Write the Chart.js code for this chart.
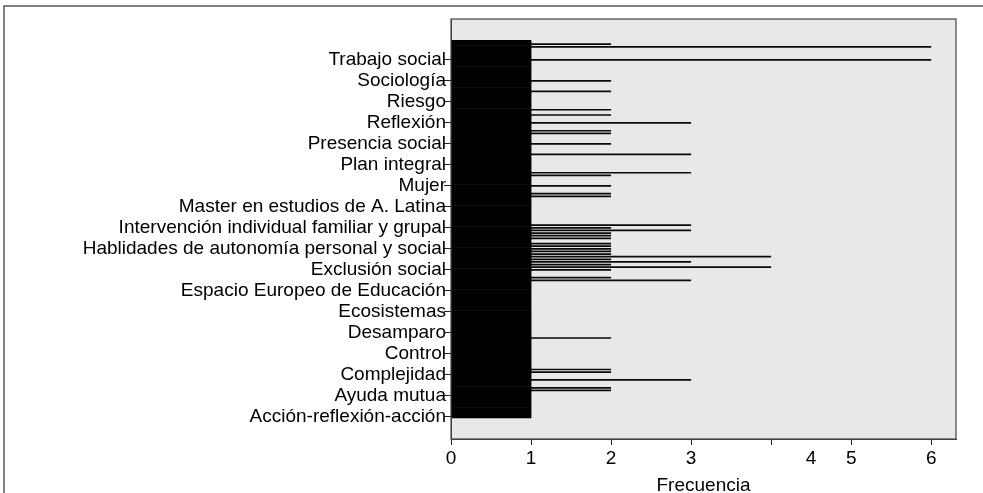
<!DOCTYPE html>
<html>
<head>
<meta charset="utf-8">
<script src="https://cdn.jsdelivr.net/npm/chart.js@4"></script>
<style>
  html, body { margin: 0; padding: 0; background: #fff; }
  canvas { display: block; }
</style>
</head>
<body>
<canvas id="keywordChart" width="983" height="493"></canvas>
<script>
// keywords shown on the axis (every 8th bar, bottom to top)
const shownKeywords = [
  'Acción-reflexión-acción', 'Ayuda mutua', 'Complejidad', 'Control',
  'Desamparo', 'Ecosistemas', 'Espacio Europeo de Educación', 'Exclusión social',
  'Hablidades de autonomía personal y social', 'Intervención individual familiar y grupal',
  'Master en estudios de A. Latina', 'Mujer', 'Plan integral', 'Presencia social',
  'Reflexión', 'Riesgo', 'Sociología', 'Trabajo social'
];
const LABEL_EVERY = 8;

// frequency of each keyword, bottom bar first (144 bars)
const frequencies = [
  1, 1, 1, 1, 1, 1, 1, 1, 1, 1,
  2, 2, 1, 1, 3, 1, 1, 2, 2, 1,
  1, 1, 1, 1, 1, 1, 1, 1, 1, 1,
  2, 1, 1, 1, 1, 1, 1, 1, 1, 1,
  1, 1, 1, 1, 1, 1, 1, 1, 1, 1,
  1, 1, 3, 2, 1, 1, 2, 4, 2, 3,
  2, 4, 2, 2, 2, 2, 2, 1, 2, 2,
  2, 3, 2, 3, 1, 1, 1, 1, 1, 1,
  1, 1, 1, 1, 2, 2, 1, 1, 2, 1,
  1, 1, 2, 3, 1, 1, 1, 1, 1, 1,
  3, 1, 1, 1, 2, 1, 1, 1, 2, 2,
  1, 1, 3, 1, 1, 2, 1, 2, 1, 1,
  1, 1, 1, 1, 2, 1, 1, 1, 2, 1,
  1, 1, 1, 1, 1, 1, 6, 1, 1, 1,
  1, 6, 2, 1
];

// x axis ticks as printed (the "4" label sits off its tick in the original)
const xTickValues = [0, 1, 2, 3, 4, 4.5, 5, 6];
const xTickLabels = ['0', '1', '2', '3', '', '4', '5', '6'];
const xTickMarks  = [true, true, true, true, true, false, true, true];

const FONT = { family: 'Liberation Sans, Arial, sans-serif', size: 19 };
const INK = '#222';

/* === Frame, grey plot area, plot border === */
const framePlugin = {
  id: 'frame',
  beforeDraw(chart) {
    const ctx = chart.ctx;
    const a = chart.chartArea;
    ctx.save();
    ctx.fillStyle = '#fff';
    ctx.fillRect(0, 0, chart.width, chart.height);
    ctx.strokeStyle = '#555';
    ctx.lineWidth = 1.5;
    ctx.beginPath();
    ctx.moveTo(chart.width, 6);
    ctx.lineTo(4, 6);
    ctx.lineTo(4, chart.height);
    ctx.stroke();
    ctx.fillStyle = '#e8e8e8';
    ctx.fillRect(a.left, a.top, a.right - a.left, a.bottom - a.top);
    ctx.restore();
  },
  afterDraw(chart) {
    const ctx = chart.ctx;
    const a = chart.chartArea;
    ctx.save();
    ctx.strokeStyle = '#444';
    ctx.lineWidth = 1.2;
    ctx.strokeRect(a.left, a.top, a.right - a.left, a.bottom - a.top);
    ctx.restore();
  }
};

const ctx = document.getElementById('keywordChart').getContext('2d');
new Chart(ctx, {
  type: 'bar',
  data: {
    datasets: [
      {
        // solid block 0..1
        data: frequencies.map((v, i) => ({ x: Math.min(v, 1), y: i })),
        backgroundColor: '#000',
        borderWidth: 0,
        barPercentage: 1,
        categoryPercentage: 1,
        grouped: false
      },
      {
        data: frequencies.map((v, i) => ({ x: v, y: i })),
        backgroundColor: '#0a0a0a',
        borderWidth: 0,
        barPercentage: 0.65,
        categoryPercentage: 1,
        grouped: false
      }
    ]
  },
  options: {
    indexAxis: 'y',
    responsive: false,
    animation: false,
    layout: { padding: { top: 19, right: 27, left: 0, bottom: 0 } },
    scales: {
      x: {
        type: 'linear',
        min: 0,
        max: 6.31,
        afterBuildTicks(scale) {
          scale.ticks = xTickValues.map(v => ({ value: v }));
        },
        afterFit(scale) { scale.height = 54; },
        grid: {
          drawOnChartArea: false,
          offset: false,
          tickLength: 6,
          tickColor: c => (xTickMarks[c.index] ? INK : 'rgba(0,0,0,0)')
        },
        border: { display: true, color: '#444', width: 1 },
        ticks: {
          color: '#000',
          font: FONT,
          padding: 2,
          maxRotation: 0,
          autoSkip: false,
          callback: (value, index) => xTickLabels[index]
        },
        title: {
          display: true,
          text: 'Frecuencia',
          color: '#000',
          font: FONT,
          padding: { top: 0, bottom: -4 }
        }
      },
      y: {
        type: 'linear',
        min: -8.5,
        max: 151.6,
        offset: false,
        afterBuildTicks(scale) {
          scale.ticks = shownKeywords.map((k, m) => ({ value: m * LABEL_EVERY }));
        },
        afterFit(scale) { scale.width = 451; },
        grid: {
          drawOnChartArea: false,
          offset: false,
          tickLength: 7,
          tickColor: INK
        },
        border: { display: true, color: '#444', width: 1 },
        ticks: {
          color: '#000',
          font: FONT,
          padding: -2,
          autoSkip: false,
          callback: value => shownKeywords[value / LABEL_EVERY]
        }
      }
    },
    plugins: {
      legend: { display: false },
      tooltip: { enabled: false }
    }
  },
  plugins: [framePlugin]
});
</script>
</body>
</html>
